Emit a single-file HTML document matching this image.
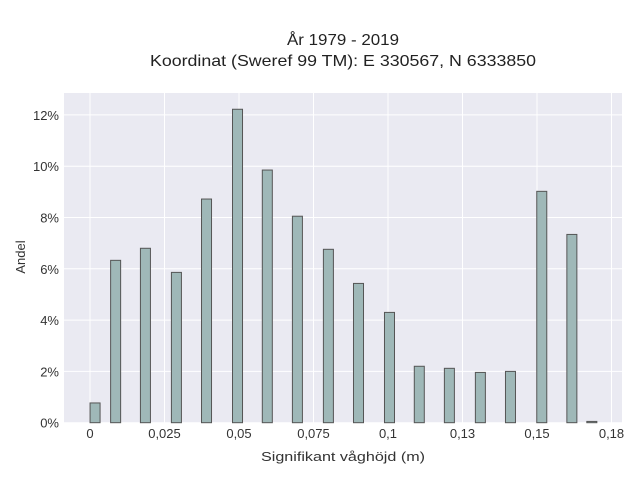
<!DOCTYPE html>
<html><head><meta charset="utf-8"><style>
html,body{margin:0;padding:0;background:#fff;}
svg{display:block;font-family:"Liberation Sans",sans-serif;}
</style></head><body>
<svg id="chart" width="640" height="480" viewBox="0 0 640 480">
<text x="343" y="45" text-anchor="middle" font-size="16" fill="#222" textLength="112" lengthAdjust="spacingAndGlyphs">År 1979 - 2019</text>
<text x="343" y="66" text-anchor="middle" font-size="16" fill="#222" textLength="386" lengthAdjust="spacingAndGlyphs">Koordinat (Sweref 99 TM): E 330567, N 6333850</text>
<rect x="64" y="93" width="558" height="330" fill="#eaeaf2"/>
<g id="grid"></g>
<g id="bars"></g>
<g id="xticks"></g>
<g id="yticks"></g>
<text x="343" y="461" text-anchor="middle" font-size="13" fill="#333" textLength="164" lengthAdjust="spacingAndGlyphs">Signifikant våghöjd (m)</text>
<text transform="translate(25,257) rotate(-90)" text-anchor="middle" font-size="13" fill="#333">Andel</text>
</svg>
<script>
const binCenters=[0.0017,0.0086,0.0186,0.029,0.0391,0.0495,0.0595,0.0696,0.08,0.0901,0.1005,0.1105,0.1206,0.131,0.1411,0.1516,0.1617,0.1684];
const shares=[0.77,6.33,6.80,5.86,8.72,12.22,9.85,8.05,6.76,5.43,4.30,2.20,2.12,1.96,2.00,9.02,7.34,0.05];
const xTickValues=[0,0.025,0.05,0.075,0.1,0.125,0.15,0.175];
const xTickLabels=["0","0,025","0,05","0,075","0,1","0,13","0,15","0,18"];
const yTickValues=[0,2,4,6,8,10,12];
const yTickLabels=["0%","2%","4%","6%","8%","10%","12%"];
const binWidth=0.00336;
const NS="http://www.w3.org/2000/svg";
const xS=v=>90+v*2980;
const yS=v=>422.7-v*25.65;
function mk(t,a,p){const e=document.createElementNS(NS,t);for(const k in a)e.setAttribute(k,a[k]);p.appendChild(e);return e;}
const grid=document.getElementById('grid'),bars=document.getElementById('bars'),xt=document.getElementById('xticks'),yt=document.getElementById('yticks');
xTickValues.forEach((v,i)=>{
 const l=mk('line',{x1:xS(v),x2:xS(v),y1:93,y2:423,stroke:'#fff','stroke-width':1},grid);
 
 
 const t=mk('text',{x:xS(v),y:438,'text-anchor':'middle','font-size':13,fill:'#333'},xt);
 t.textContent=xTickLabels[i];
 
 
});
yTickValues.forEach((v,i)=>{
 const l=mk('line',{x1:64,x2:622,y1:yS(v),y2:yS(v),stroke:'#fff','stroke-width':1},grid);
 
 
 const t=mk('text',{x:59,y:yS(v)+5,'text-anchor':'end','font-size':13,fill:'#333'},yt);
 t.textContent=yTickLabels[i];
 
 
});
binCenters.forEach((c,i)=>{
 const x0=xS(c-binWidth/2),x1=xS(c+binWidth/2),y=yS(shares[i]);
 const r=mk('rect',{x:x0,y:y,width:x1-x0,height:yS(0)-y,fill:'#9fb8b8',stroke:'#555','stroke-width':1},bars);
 
 
});
</script>
</body></html>
